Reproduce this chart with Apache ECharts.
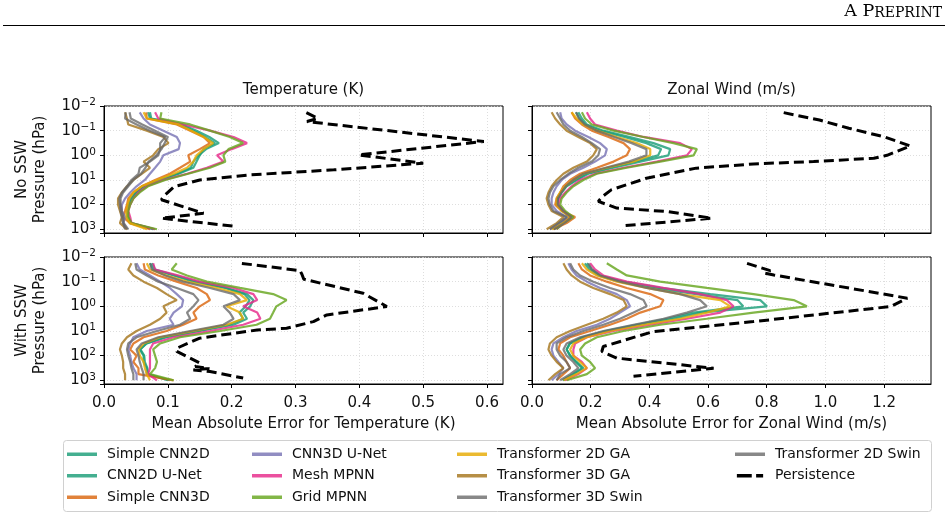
<!DOCTYPE html>
<html>
<head>
<meta charset="utf-8">
<script src="https://cdn.jsdelivr.net/npm/echarts@6/dist/echarts.min.js"></script>
<style>html,body{margin:0;padding:0;background:#fff}#c{width:948px;height:516px}</style>
</head>
<body>
<div id="c"></div>
<script>
// ---------- data ----------
const levels = [0.018, 0.032, 0.056, 0.1, 0.18, 0.32, 0.56, 1, 1.8, 3.2, 5.6, 10, 18, 32, 56, 100, 180, 320, 560, 1000];
const models = ['Simple CNN2D', 'CNN2D U-Net', 'Simple CNN3D', 'CNN3D U-Net', 'Mesh MPNN', 'Grid MPNN',
                'Transformer 2D GA', 'Transformer 3D GA', 'Transformer 3D Swin', 'Transformer 2D Swin'];
const panelTitles = ['Temperature (K)', 'Zonal Wind (m/s)'];
const rowLabels = ['No SSW', 'With SSW'];
const tempTicks = [0, 0.1, 0.2, 0.3, 0.4, 0.5, 0.6];
const windTicks = [0, 0.2, 0.4, 0.6, 0.8, 1.0, 1.2];
const pressureExponents = [-2, -1, 0, 1, 2, 3];

// Temperature, No SSW (model order as in `models`)
const tempNoSSW = [
  [0.069,0.072,0.119,0.140,0.158,0.174,0.156,0.150,0.145,0.140,0.117,0.088,0.064,0.051,0.043,0.038,0.036,0.036,0.041,0.077],
  [0.072,0.074,0.122,0.145,0.165,0.180,0.160,0.148,0.140,0.136,0.115,0.086,0.062,0.050,0.042,0.039,0.037,0.038,0.043,0.079],
  [0.066,0.067,0.114,0.135,0.156,0.166,0.150,0.132,0.135,0.119,0.103,0.080,0.059,0.046,0.038,0.036,0.033,0.030,0.041,0.072],
  [0.056,0.062,0.072,0.093,0.114,0.119,0.117,0.093,0.088,0.080,0.072,0.064,0.051,0.041,0.033,0.028,0.028,0.033,0.030,0.036],
  [0.080,0.085,0.124,0.166,0.203,0.224,0.200,0.177,0.187,0.161,0.130,0.093,0.067,0.054,0.046,0.041,0.038,0.041,0.043,0.080],
  [0.090,0.088,0.135,0.166,0.197,0.218,0.195,0.187,0.190,0.166,0.132,0.096,0.069,0.056,0.046,0.041,0.038,0.038,0.043,0.083],
  [0.062,0.067,0.117,0.137,0.156,0.171,0.156,0.145,0.140,0.130,0.109,0.083,0.059,0.046,0.040,0.037,0.035,0.035,0.040,0.067],
  [0.033,0.036,0.038,0.067,0.093,0.101,0.085,0.077,0.062,0.072,0.059,0.046,0.036,0.028,0.022,0.022,0.025,0.028,0.025,0.036],
  [0.034,0.033,0.051,0.072,0.096,0.088,0.088,0.085,0.072,0.056,0.054,0.043,0.036,0.028,0.024,0.025,0.026,0.028,0.030,0.033],
  [0.040,0.042,0.060,0.080,0.100,0.095,0.090,0.082,0.070,0.065,0.058,0.046,0.038,0.030,0.026,0.026,0.028,0.030,0.031,0.038]
];
// Zonal wind, No SSW
const windNoSSW = [
  [0.158,0.170,0.187,0.243,0.334,0.414,0.471,0.465,0.369,0.278,0.192,0.152,0.118,0.101,0.090,0.084,0.107,0.130,0.096,0.073],
  [0.150,0.162,0.180,0.232,0.315,0.390,0.440,0.430,0.350,0.265,0.185,0.148,0.115,0.100,0.088,0.085,0.105,0.128,0.098,0.075],
  [0.135,0.147,0.170,0.204,0.261,0.312,0.334,0.323,0.278,0.221,0.164,0.130,0.107,0.096,0.084,0.079,0.101,0.147,0.118,0.073],
  [0.096,0.101,0.118,0.147,0.192,0.232,0.255,0.249,0.215,0.175,0.130,0.101,0.084,0.073,0.067,0.067,0.084,0.118,0.096,0.061],
  [0.187,0.198,0.215,0.289,0.380,0.505,0.545,0.528,0.425,0.312,0.215,0.164,0.135,0.113,0.096,0.090,0.107,0.130,0.107,0.084],
  [0.170,0.181,0.204,0.278,0.380,0.482,0.562,0.551,0.437,0.323,0.221,0.175,0.141,0.118,0.101,0.096,0.113,0.141,0.107,0.084],
  [0.135,0.152,0.175,0.221,0.289,0.357,0.403,0.403,0.346,0.255,0.175,0.141,0.113,0.096,0.084,0.084,0.101,0.130,0.107,0.067],
  [0.067,0.079,0.096,0.118,0.158,0.198,0.221,0.209,0.187,0.141,0.107,0.084,0.067,0.056,0.050,0.056,0.067,0.107,0.084,0.050],
  [0.084,0.096,0.107,0.130,0.170,0.204,0.232,0.226,0.204,0.158,0.124,0.096,0.073,0.061,0.056,0.061,0.073,0.118,0.090,0.061],
  [0.150,0.160,0.180,0.220,0.280,0.340,0.390,0.390,0.330,0.250,0.175,0.140,0.115,0.100,0.088,0.088,0.105,0.135,0.110,0.075]
];
// Temperature, With SSW
const tempSSW = [
  [0.072,0.077,0.109,0.140,0.192,0.224,0.234,0.229,0.218,0.224,0.203,0.150,0.098,0.067,0.056,0.062,0.062,0.067,0.067,0.103],
  [0.075,0.080,0.112,0.145,0.190,0.220,0.228,0.222,0.212,0.218,0.196,0.146,0.095,0.066,0.057,0.063,0.064,0.068,0.069,0.100],
  [0.062,0.064,0.085,0.114,0.145,0.161,0.166,0.150,0.140,0.145,0.124,0.098,0.062,0.046,0.041,0.051,0.046,0.054,0.054,0.109],
  [0.051,0.056,0.072,0.088,0.103,0.114,0.124,0.122,0.109,0.103,0.109,0.067,0.046,0.041,0.038,0.041,0.043,0.046,0.051,0.051],
  [0.077,0.080,0.117,0.150,0.203,0.234,0.240,0.218,0.240,0.245,0.218,0.166,0.109,0.077,0.072,0.072,0.072,0.072,0.069,0.083],
  [0.114,0.106,0.130,0.161,0.213,0.265,0.286,0.270,0.265,0.260,0.239,0.182,0.119,0.088,0.077,0.080,0.083,0.080,0.072,0.109],
  [0.067,0.072,0.098,0.130,0.177,0.213,0.224,0.192,0.213,0.218,0.192,0.140,0.088,0.062,0.054,0.056,0.062,0.064,0.067,0.072],
  [0.043,0.038,0.046,0.062,0.083,0.098,0.114,0.093,0.098,0.088,0.072,0.051,0.036,0.028,0.025,0.028,0.030,0.030,0.033,0.033],
  [0.049,0.051,0.067,0.085,0.114,0.140,0.148,0.140,0.130,0.135,0.119,0.083,0.051,0.038,0.036,0.038,0.041,0.043,0.046,0.046],
  [0.072,0.075,0.096,0.124,0.166,0.203,0.213,0.187,0.197,0.203,0.187,0.135,0.085,0.059,0.051,0.054,0.056,0.059,0.062,0.062]
];
// Zonal wind, With SSW
const windSSW = [
  [0.187,0.204,0.232,0.312,0.437,0.608,0.778,0.801,0.573,0.482,0.369,0.255,0.175,0.130,0.118,0.130,0.152,0.175,0.141,0.107],
  [0.180,0.195,0.225,0.300,0.410,0.560,0.700,0.720,0.550,0.460,0.355,0.250,0.172,0.128,0.118,0.130,0.150,0.170,0.140,0.105],
  [0.158,0.170,0.198,0.255,0.323,0.403,0.448,0.437,0.369,0.323,0.266,0.198,0.130,0.096,0.090,0.107,0.118,0.130,0.107,0.084],
  [0.124,0.135,0.152,0.187,0.232,0.289,0.323,0.334,0.300,0.266,0.221,0.152,0.107,0.073,0.067,0.073,0.090,0.107,0.090,0.067],
  [0.198,0.215,0.243,0.323,0.448,0.573,0.664,0.687,0.642,0.528,0.403,0.278,0.187,0.147,0.141,0.141,0.170,0.187,0.158,0.113],
  [0.255,0.289,0.323,0.437,0.596,0.755,0.892,0.937,0.755,0.596,0.437,0.312,0.221,0.181,0.164,0.170,0.198,0.215,0.187,0.118],
  [0.170,0.187,0.221,0.289,0.391,0.505,0.642,0.676,0.596,0.505,0.380,0.266,0.187,0.141,0.130,0.141,0.164,0.187,0.152,0.107],
  [0.107,0.118,0.135,0.164,0.209,0.266,0.312,0.323,0.289,0.243,0.187,0.130,0.084,0.061,0.056,0.067,0.084,0.107,0.079,0.056],
  [0.130,0.141,0.164,0.209,0.266,0.334,0.380,0.391,0.346,0.300,0.243,0.175,0.118,0.084,0.084,0.096,0.118,0.130,0.096,0.084],
  [0.192,0.204,0.232,0.300,0.391,0.505,0.573,0.596,0.528,0.448,0.346,0.243,0.164,0.118,0.107,0.118,0.141,0.158,0.130,0.096]
];

// Persistence baselines (own pressure points per panel)
const persistP_tempNo = [0.0186,0.0316,0.0427,0.275,0.964,2.09,3.89,6.17,10,18.6,46.8,63.1,224,355,776];
const persistV_tempNo = [0.317,0.335,0.318,0.595,0.399,0.50,0.36,0.23,0.15,0.11,0.093,0.09,0.156,0.09,0.208];
const persistP_windNo = [0.0186,0.0372,0.0794,0.178,0.417,1.0,1.32,1.78,2.24,3.31,8.51,25.1,46.8,74.1,138,191,355,724];
const persistV_windNo = [0.858,0.98,1.08,1.2,1.29,1.21,1.165,0.96,0.755,0.56,0.39,0.27,0.24,0.226,0.289,0.46,0.613,0.306];
const persistP_tempSSW = [0.0182,0.0355,0.0501,0.0794,0.295,1.02,2.24,4.17,7.76,9.12,19.5,50.1,67.6,200,275,331,380,437,813];
const persistV_tempSSW = [0.216,0.307,0.31,0.313,0.406,0.443,0.349,0.328,0.286,0.24,0.15,0.114,0.114,0.15,0.143,0.165,0.14,0.166,0.218];
const persistP_windSSW = [0.0182,0.0355,0.0457,0.0537,0.468,1.02,4.17,10.5,42.7,67.6,126,324,692];
const persistV_windSSW = [0.733,0.812,0.795,0.824,1.279,1.222,0.755,0.414,0.243,0.238,0.289,0.619,0.346];

// ---------- styling ----------
const modelColors = ['rgba(27,158,119,0.82)','rgba(27,158,119,0.82)','rgba(217,95,2,0.78)','rgba(117,112,179,0.8)',
  'rgba(231,41,138,0.82)','rgba(102,166,30,0.82)','rgba(230,171,2,0.82)','rgba(166,118,29,0.82)',
  'rgba(102,102,102,0.78)','rgba(102,102,102,0.78)'];
const FONT = 'DejaVu Sans';
const FS = 15;
const panels = [
  {vals: tempNoSSW, pp: persistP_tempNo, pv: persistV_tempNo, max: 0.625, ticks: tempTicks, left: 104, top: 106},
  {vals: windNoSSW, pp: persistP_windNo, pv: persistV_windNo, max: 1.36, ticks: windTicks, left: 532, top: 106},
  {vals: tempSSW, pp: persistP_tempSSW, pv: persistV_tempSSW, max: 0.625, ticks: tempTicks, left: 104, top: 257},
  {vals: windSSW, pp: persistP_windSSW, pv: persistV_windSSW, max: 1.36, ticks: windTicks, left: 532, top: 257}
];
const PW = 399, PH = 127, PMAX = Math.pow(10, 3.15);

const grid = [], xAxis = [], yAxis = [], series = [];
panels.forEach((p, i) => {
  const bottomRow = i >= 2, leftCol = i % 2 === 0;
  grid.push({left: p.left, top: p.top, width: PW, height: PH, show: true, borderColor: '#000', borderWidth: 1, backgroundColor: 'transparent'});
  xAxis.push({
    type: 'value', gridIndex: i, min: 0, max: p.max, interval: p.ticks[1],
    axisLine: {show: true, onZero: false, lineStyle: {color: '#000', width: 1}},
    axisTick: {show: true, length: 4, customValues: p.ticks, lineStyle: {color: '#000', width: 1}},
    axisLabel: {show: bottomRow, customValues: p.ticks, formatter: v => v.toFixed(1), fontFamily: FONT, fontSize: FS, color: '#111', margin: 12},
    splitLine: {show: true, lineStyle: {color: '#d6d6d6', type: [1, 2], width: 0.8}},
    name: bottomRow ? (leftCol ? 'Mean Absolute Error for Temperature (K)' : 'Mean Absolute Error for Zonal Wind (m/s)') : '',
    nameLocation: 'middle', nameGap: 33, nameTextStyle: {fontFamily: FONT, fontSize: FS, color: '#111'}
  });
  yAxis.push({
    type: 'log', logBase: 10, gridIndex: i, inverse: true, min: 0.01, max: PMAX,
    axisLine: {show: true, lineStyle: {color: '#000', width: 1}},
    axisTick: {show: true, length: 4, lineStyle: {color: '#000', width: 1}},
    axisLabel: {
      show: leftCol, fontFamily: FONT, fontSize: FS, color: '#111', margin: 8,
      formatter: v => {
        const e = Math.log10(v), r = Math.round(e);
        if (Math.abs(e - r) > 0.02 || pressureExponents.indexOf(r) < 0) return '';
        return '{b|10}{s|' + (r < 0 ? '\u2212' + (-r) : r) + '}';
      },
      rich: {b: {fontFamily: FONT, fontSize: FS, color: '#111'}, s: {fontFamily: FONT, fontSize: 10.5, color: '#111', verticalAlign: 'top', padding: [0, 0, 7, 0]}}
    },
    splitLine: {show: true, lineStyle: {color: '#d6d6d6', type: [1, 2], width: 0.8}},
    minorTick: {show: false}
  });
  p.vals.forEach((arr, m) => {
    series.push({
      type: 'line', name: models[m], xAxisIndex: i, yAxisIndex: i, symbol: 'none', showSymbol: false,
      color: modelColors[m], lineStyle: {width: 2.2, color: modelColors[m]}, silent: true, z: 2,
      data: arr.map((v, k) => [v, levels[k]])
    });
  });
  series.push({
    type: 'line', name: 'Persistence', xAxisIndex: i, yAxisIndex: i, symbol: 'none', showSymbol: false,
    color: '#000', lineStyle: {width: 3, color: '#000', type: [10, 5]}, silent: true, z: 3,
    data: p.pv.map((v, k) => [v, p.pp[k]])
  });
});

const dashIcon = 'path://M0,0H17V4H0Z M22,0H30V4H22Z';
const legendCols = [
  {left: 67, names: [models[0], models[1], models[2]]},
  {left: 252, names: [models[3], models[4], models[5]]},
  {left: 457, names: [models[6], models[7], models[8]]},
  {left: 735, names: [models[9], 'Persistence']}
];
const legend = legendCols.map(c => ({
  orient: 'vertical', left: c.left, top: 446, padding: 0, itemWidth: 30, itemHeight: 3.5, itemGap: 5,
  data: c.names.map(n => ({name: n, icon: n === 'Persistence' ? dashIcon : 'rect'})), selectedMode: false,
  textStyle: {fontFamily: FONT, fontSize: 14, color: '#111', lineHeight: 16.5, padding: [0, 0, 0, 5]}
}));

const chart = echarts.init(document.getElementById('c'), null, {renderer: 'canvas'});
chart.setOption({
  animation: false,
  backgroundColor: '#fff',
  title: [
    {text: panelTitles[0], left: 104 + PW / 2, top: 83, textAlign: 'center', padding: 0, textStyle: {fontFamily: FONT, fontSize: FS, fontWeight: 'normal', color: '#111'}},
    {text: panelTitles[1], left: 532 + PW / 2, top: 83, textAlign: 'center', padding: 0, textStyle: {fontFamily: FONT, fontSize: FS, fontWeight: 'normal', color: '#111'}}
  ],
  grid, xAxis, yAxis, series, legend,
  graphic: [
    {type: 'line', shape: {x1: 3, y1: 25.5, x2: 945, y2: 25.5}, style: {stroke: '#000', lineWidth: 1}, silent: true},
    {type: 'text', right: 6, top: 2, silent: true,
      style: {text: '{a|A P}{b|REPRINT}', rich: {
        a: {fontFamily: 'DejaVu Serif', fontSize: 17.5, fill: '#000', verticalAlign: 'bottom'},
        b: {fontFamily: 'DejaVu Serif', fontSize: 14, fill: '#000', verticalAlign: 'bottom'}}}},
    {type: 'text', x: 31, y: 106 + PH / 2, rotation: Math.PI / 2, silent: true,
      style: {text: rowLabels[0] + '\nPressure (hPa)', fontFamily: FONT, fontSize: FS, fill: '#111', align: 'center', verticalAlign: 'middle', lineHeight: 18}},
    {type: 'text', x: 31, y: 257 + PH / 2, rotation: Math.PI / 2, silent: true,
      style: {text: rowLabels[1] + '\nPressure (hPa)', fontFamily: FONT, fontSize: FS, fill: '#111', align: 'center', verticalAlign: 'middle', lineHeight: 18}},
    {type: 'rect', shape: {x: 63.5, y: 440.5, width: 868, height: 71, r: 3}, style: {fill: 'transparent', stroke: '#d0d0d0', lineWidth: 1}, silent: true, z: -1}
  ]
});
</script>
</body>
</html>
